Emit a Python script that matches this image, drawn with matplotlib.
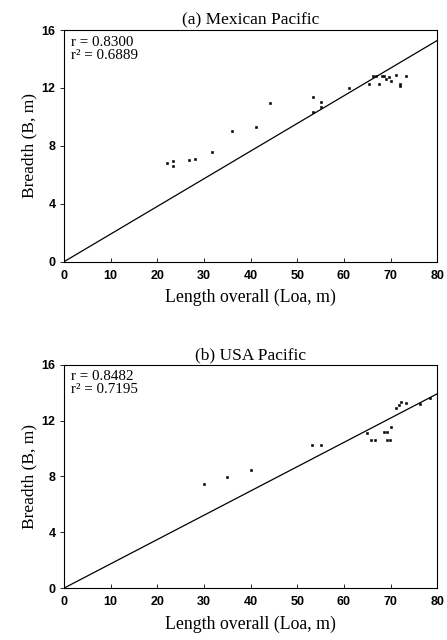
import matplotlib
matplotlib.use("Agg")
import matplotlib.pyplot as plt
import numpy as np

# (a) Mexican Pacific vessels: length overall vs breadth
mex_loa = [22.2, 23.3, 23.3, 26.9, 28.1, 31.8, 36.1, 41.1, 44.1, 53.4, 53.4,
           55.2, 55.2, 61.0, 65.3, 66.2, 66.8, 67.6, 68.2, 68.7, 69.1, 69.6,
           70.2, 71.1, 72.1, 72.1, 73.3]
mex_b = [6.79, 6.95, 6.6, 7.0, 7.07, 7.6, 9.02, 9.32, 10.98, 11.35, 10.36,
         11.0, 10.66, 11.97, 12.25, 12.85, 12.82, 12.27, 12.85, 12.85, 12.6,
         12.73, 12.5, 12.89, 12.27, 12.15, 12.82]
mex_slope = 0.191
mex_r = "0.8300"
mex_r2 = "0.6889"

# (b) USA Pacific vessels
usa_loa = [30.0, 34.9, 40.0, 53.2, 55.1, 65.0, 65.9, 66.6, 68.6, 69.2, 69.2,
           69.8, 70.1, 71.1, 71.8, 72.2, 73.3, 76.3, 78.4]
usa_b = [7.45, 7.93, 8.43, 10.24, 10.24, 11.15, 10.63, 10.63, 11.22, 11.22,
         10.63, 10.63, 11.51, 12.9, 13.13, 13.3, 13.25, 13.2, 13.59]
usa_slope = 0.174
usa_r = "0.8482"
usa_r2 = "0.7195"

serif = ["Liberation Serif", "DejaVu Serif"]
sans = ["Liberation Sans", "DejaVu Sans"]

fig = plt.figure(figsize=(4.47, 6.4), dpi=100)
ax_a = fig.add_axes([0.143, 0.591, 0.835, 0.362])
ax_b = fig.add_axes([0.143, 0.081, 0.835, 0.349])

panels = [
    (ax_a, "(a) Mexican Pacific", mex_loa, mex_b, mex_slope, mex_r, mex_r2),
    (ax_b, "(b) USA Pacific", usa_loa, usa_b, usa_slope, usa_r, usa_r2),
]

for ax, title, loa, b, slope, r, r2 in panels:
    xs = np.array([0, 80])
    ax.plot(xs, slope * xs, color="black", lw=0.9)
    ax.plot(loa, b, "s", color="black", ms=1.7, mec="black", mew=0.4)
    ax.set_xlim(0, 80)
    ax.set_ylim(0, 16)
    ax.set_xticks(range(0, 81, 10))
    ax.set_yticks(range(0, 17, 4))
    ax.tick_params(axis="x", direction="in", length=3, width=0.6, pad=6)
    ax.tick_params(axis="y", direction="out", length=3, width=0.6, pad=3)
    for lbl in ax.get_xticklabels() + ax.get_yticklabels():
        lbl.set_family(sans)
        lbl.set_fontsize(9)
        lbl.set_fontweight("bold")
    for sp in ax.spines.values():
        sp.set_linewidth(0.8)
    ax.set_title(title, family=serif, fontsize=12.5, pad=4)
    ax.set_xlabel("Length overall (Loa, m)", family=serif, fontsize=12.8, labelpad=5)
    ax.set_ylabel("Breadth (B, m)", family=serif, fontsize=12.5, labelpad=3)
    ax.text(0.02, 0.975, "r = " + r + "\nr² = " + r2, transform=ax.transAxes,
            va="top", ha="left", family=serif, fontsize=10.8, linespacing=1.0)

fig.savefig("out.png", dpi=100)
